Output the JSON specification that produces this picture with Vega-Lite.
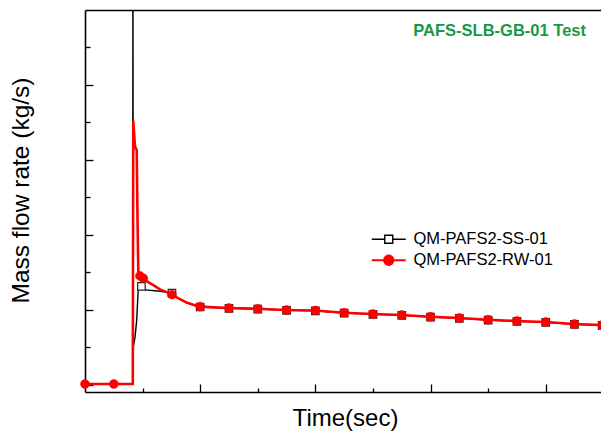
{
  "$schema": "https://vega.github.io/schema/vega-lite/v6.json",
  "width": 516,
  "height": 382,
  "autosize": {"type": "none"},
  "padding": {"left": 85, "top": 10, "right": 0, "bottom": 40},
  "background": "white",
  "config": {
    "view": {"stroke": null},
    "axis": {"grid": false, "labels": false, "domainColor": "black", "domainWidth": 1.6, "tickColor": "black", "tickWidth": 1.3, "titleFont": "Liberation Sans", "titleFontWeight": "normal", "titleColor": "black", "titleFontSize": 24},
    "legend": {"labelFont": "Liberation Sans", "labelFontSize": 16.5, "labelColor": "black"}
  },
  "title": {"text": "PAFS-SLB-GB-01 Test", "anchor": "end", "frame": "group", "orient": "top", "offset": -42, "baseline": "alphabetic", "dx": -15, "font": "Liberation Sans", "fontSize": 16.5, "fontWeight": "bold", "color": "#17994a"},
  "datasets": {
    "curves": [
      {"series": "QM-PAFS2-SS-01", "time": 0, "flow": 0.007},
      {"series": "QM-PAFS2-SS-01", "time": 0.414, "flow": 0.007},
      {"series": "QM-PAFS2-SS-01", "time": 0.416, "flow": 6},
      {"series": "QM-PAFS2-SS-01", "time": 0.419, "flow": 0.5},
      {"series": "QM-PAFS2-SS-01", "time": 0.425, "flow": 0.55},
      {"series": "QM-PAFS2-SS-01", "time": 0.434, "flow": 0.63},
      {"series": "QM-PAFS2-SS-01", "time": 0.449, "flow": 0.86},
      {"series": "QM-PAFS2-SS-01", "time": 0.463, "flow": 1.3},
      {"series": "QM-PAFS2-SS-01", "time": 0.49, "flow": 1.27},
      {"series": "QM-PAFS2-SS-01", "time": 0.55, "flow": 1.26},
      {"series": "QM-PAFS2-SS-01", "time": 0.65, "flow": 1.245},
      {"series": "QM-PAFS2-SS-01", "time": 0.72, "flow": 1.23},
      {"series": "QM-PAFS2-SS-01", "time": 0.755, "flow": 1.215},
      {"series": "QM-PAFS2-SS-01", "time": 0.8, "flow": 1.16},
      {"series": "QM-PAFS2-SS-01", "time": 0.875, "flow": 1.095},
      {"series": "QM-PAFS2-SS-01", "time": 0.94, "flow": 1.06},
      {"series": "QM-PAFS2-SS-01", "time": 1.0, "flow": 1.035},
      {"series": "QM-PAFS2-SS-01", "time": 1.25, "flow": 1.016},
      {"series": "QM-PAFS2-SS-01", "time": 1.5, "flow": 1.007},
      {"series": "QM-PAFS2-SS-01", "time": 1.75, "flow": 0.99},
      {"series": "QM-PAFS2-SS-01", "time": 2.0, "flow": 0.983},
      {"series": "QM-PAFS2-SS-01", "time": 2.25, "flow": 0.954},
      {"series": "QM-PAFS2-SS-01", "time": 2.5, "flow": 0.936},
      {"series": "QM-PAFS2-SS-01", "time": 2.75, "flow": 0.923},
      {"series": "QM-PAFS2-SS-01", "time": 3.0, "flow": 0.9},
      {"series": "QM-PAFS2-SS-01", "time": 3.25, "flow": 0.883},
      {"series": "QM-PAFS2-SS-01", "time": 3.5, "flow": 0.86},
      {"series": "QM-PAFS2-SS-01", "time": 3.75, "flow": 0.843},
      {"series": "QM-PAFS2-SS-01", "time": 4.0, "flow": 0.829},
      {"series": "QM-PAFS2-SS-01", "time": 4.25, "flow": 0.803},
      {"series": "QM-PAFS2-SS-01", "time": 4.49, "flow": 0.789},
      {"series": "QM-PAFS2-RW-01", "time": 0, "flow": 0.007},
      {"series": "QM-PAFS2-RW-01", "time": 0.415, "flow": 0.007},
      {"series": "QM-PAFS2-RW-01", "time": 0.419, "flow": 3.52},
      {"series": "QM-PAFS2-RW-01", "time": 0.434, "flow": 3.18},
      {"series": "QM-PAFS2-RW-01", "time": 0.449, "flow": 3.13},
      {"series": "QM-PAFS2-RW-01", "time": 0.456, "flow": 2.2},
      {"series": "QM-PAFS2-RW-01", "time": 0.463, "flow": 1.5},
      {"series": "QM-PAFS2-RW-01", "time": 0.477, "flow": 1.45},
      {"series": "QM-PAFS2-RW-01", "time": 0.506, "flow": 1.42},
      {"series": "QM-PAFS2-RW-01", "time": 0.535, "flow": 1.38},
      {"series": "QM-PAFS2-RW-01", "time": 0.6, "flow": 1.32},
      {"series": "QM-PAFS2-RW-01", "time": 0.65, "flow": 1.27},
      {"series": "QM-PAFS2-RW-01", "time": 0.7, "flow": 1.24},
      {"series": "QM-PAFS2-RW-01", "time": 0.755, "flow": 1.2},
      {"series": "QM-PAFS2-RW-01", "time": 0.8, "flow": 1.16},
      {"series": "QM-PAFS2-RW-01", "time": 0.875, "flow": 1.1},
      {"series": "QM-PAFS2-RW-01", "time": 0.94, "flow": 1.065},
      {"series": "QM-PAFS2-RW-01", "time": 1.0, "flow": 1.04},
      {"series": "QM-PAFS2-RW-01", "time": 1.25, "flow": 1.021},
      {"series": "QM-PAFS2-RW-01", "time": 1.5, "flow": 1.012},
      {"series": "QM-PAFS2-RW-01", "time": 1.75, "flow": 0.995},
      {"series": "QM-PAFS2-RW-01", "time": 2.0, "flow": 0.988},
      {"series": "QM-PAFS2-RW-01", "time": 2.25, "flow": 0.959},
      {"series": "QM-PAFS2-RW-01", "time": 2.5, "flow": 0.941},
      {"series": "QM-PAFS2-RW-01", "time": 2.75, "flow": 0.928},
      {"series": "QM-PAFS2-RW-01", "time": 3.0, "flow": 0.905},
      {"series": "QM-PAFS2-RW-01", "time": 3.25, "flow": 0.888},
      {"series": "QM-PAFS2-RW-01", "time": 3.5, "flow": 0.865},
      {"series": "QM-PAFS2-RW-01", "time": 3.75, "flow": 0.848},
      {"series": "QM-PAFS2-RW-01", "time": 4.0, "flow": 0.834},
      {"series": "QM-PAFS2-RW-01", "time": 4.25, "flow": 0.808},
      {"series": "QM-PAFS2-RW-01", "time": 4.49, "flow": 0.794}
    ],
    "markers": [
      {"series": "QM-PAFS2-SS-01", "time": 0.49, "flow": 1.31},
      {"series": "QM-PAFS2-SS-01", "time": 0.755, "flow": 1.22},
      {"series": "QM-PAFS2-SS-01", "time": 1.0, "flow": 1.035},
      {"series": "QM-PAFS2-SS-01", "time": 1.25, "flow": 1.016},
      {"series": "QM-PAFS2-SS-01", "time": 1.5, "flow": 1.007},
      {"series": "QM-PAFS2-SS-01", "time": 1.75, "flow": 0.99},
      {"series": "QM-PAFS2-SS-01", "time": 2.0, "flow": 0.983},
      {"series": "QM-PAFS2-SS-01", "time": 2.25, "flow": 0.954},
      {"series": "QM-PAFS2-SS-01", "time": 2.5, "flow": 0.936},
      {"series": "QM-PAFS2-SS-01", "time": 2.75, "flow": 0.923},
      {"series": "QM-PAFS2-SS-01", "time": 3.0, "flow": 0.9},
      {"series": "QM-PAFS2-SS-01", "time": 3.25, "flow": 0.883},
      {"series": "QM-PAFS2-SS-01", "time": 3.5, "flow": 0.86},
      {"series": "QM-PAFS2-SS-01", "time": 3.75, "flow": 0.843},
      {"series": "QM-PAFS2-SS-01", "time": 4.0, "flow": 0.829},
      {"series": "QM-PAFS2-SS-01", "time": 4.25, "flow": 0.803},
      {"series": "QM-PAFS2-SS-01", "time": 4.49, "flow": 0.789},
      {"series": "QM-PAFS2-RW-01", "time": 0, "flow": 0.007},
      {"series": "QM-PAFS2-RW-01", "time": 0.25, "flow": 0.007},
      {"series": "QM-PAFS2-RW-01", "time": 0.477, "flow": 1.45},
      {"series": "QM-PAFS2-RW-01", "time": 0.506, "flow": 1.42},
      {"series": "QM-PAFS2-RW-01", "time": 0.755, "flow": 1.2},
      {"series": "QM-PAFS2-RW-01", "time": 1.0, "flow": 1.04},
      {"series": "QM-PAFS2-RW-01", "time": 1.25, "flow": 1.021},
      {"series": "QM-PAFS2-RW-01", "time": 1.5, "flow": 1.012},
      {"series": "QM-PAFS2-RW-01", "time": 1.75, "flow": 0.995},
      {"series": "QM-PAFS2-RW-01", "time": 2.0, "flow": 0.988},
      {"series": "QM-PAFS2-RW-01", "time": 2.25, "flow": 0.959},
      {"series": "QM-PAFS2-RW-01", "time": 2.5, "flow": 0.941},
      {"series": "QM-PAFS2-RW-01", "time": 2.75, "flow": 0.928},
      {"series": "QM-PAFS2-RW-01", "time": 3.0, "flow": 0.905},
      {"series": "QM-PAFS2-RW-01", "time": 3.25, "flow": 0.888},
      {"series": "QM-PAFS2-RW-01", "time": 3.5, "flow": 0.865},
      {"series": "QM-PAFS2-RW-01", "time": 3.75, "flow": 0.848},
      {"series": "QM-PAFS2-RW-01", "time": 4.0, "flow": 0.834},
      {"series": "QM-PAFS2-RW-01", "time": 4.25, "flow": 0.808},
      {"series": "QM-PAFS2-RW-01", "time": 4.49, "flow": 0.794}
    ]
  },
  "resolve": {"axis": {"x": "independent", "y": "independent"}},
  "layer": [
    {
      "data": {"name": "curves"},
      "transform": [{"filter": "datum.series === 'QM-PAFS2-SS-01'"}],
      "mark": {"type": "line", "strokeWidth": 1.4, "clip": true},
      "encoding": {
        "x": {"field": "time", "type": "quantitative", "scale": {"domain": [0, 4.48], "nice": false, "zero": false},
          "axis": {"orient": "bottom", "values": [1, 2, 3, 4], "tickSize": -8, "title": "Time(sec)", "titleX": 260, "titleY": 33, "titleBaseline": "alphabetic", "titleAnchor": "middle"}},
        "y": {"field": "flow", "type": "quantitative", "scale": {"domain": [-0.1, 5.0], "nice": false, "zero": false},
          "axis": {"orient": "left", "values": [0, 1, 2, 3, 4], "tickSize": -8, "title": "Mass flow rate (kg/s)", "titleFontSize": 24.5, "titleX": -64, "titleY": 180, "titleBaseline": "middle", "titleAngle": -90, "titleAnchor": "middle"}},
        "color": {"field": "series", "type": "nominal",
          "scale": {"domain": ["QM-PAFS2-SS-01", "QM-PAFS2-RW-01"], "range": ["#000000", "#ff0000"]},
          "legend": {"title": null, "orient": "none", "legendX": 295.5, "legendY": 221, "padding": 0, "symbolSize": 289, "labelOffset": 16.5, "rowPadding": 3,
            "encode": {"symbols": {"update": {
              "shape": {"signal": "datum.value === 'QM-PAFS2-SS-01' ? 'M-2,0H-0.47M0.47,0H2M-0.47,-0.47H0.47V0.47H-0.47Z' : 'M-2,0H2M-0.55,0A0.55,0.55 0 1 1 0.55,0A0.55,0.55 0 1 1 -0.55,0Z'"},
              "fill": {"signal": "datum.value === 'QM-PAFS2-SS-01' ? 'white' : '#ff0000'"},
              "stroke": {"signal": "datum.value === 'QM-PAFS2-SS-01' ? '#000000' : '#ff0000'"},
              "strokeWidth": {"signal": "datum.value === 'QM-PAFS2-SS-01' ? 1.4 : 2"},
              "opacity": {"value": 1},
              "fillOpacity": {"value": 1},
              "strokeOpacity": {"value": 1}
            }}}}
        }
      }
    },
    {
      "data": {"name": "markers"},
      "transform": [{"filter": "datum.series === 'QM-PAFS2-SS-01'"}],
      "mark": {"type": "point", "shape": "square", "size": 56, "filled": true, "fill": "white", "stroke": "#222222", "strokeWidth": 1.2, "opacity": 1},
      "encoding": {
        "x": {"field": "time", "type": "quantitative", "axis": {"orient": "bottom", "values": [0.5, 1.5, 2.5, 3.5], "tickSize": -4, "domain": false, "title": null}},
        "y": {"field": "flow", "type": "quantitative", "axis": {"orient": "left", "values": [0.5, 1.5, 2.5, 3.5, 4.5], "tickSize": -5, "domain": false, "title": null}}
      }
    },
    {
      "data": {"name": "curves"},
      "transform": [{"filter": "datum.series === 'QM-PAFS2-RW-01'"}],
      "mark": {"type": "line", "strokeWidth": 2.6, "clip": true},
      "encoding": {
        "x": {"field": "time", "type": "quantitative", "axis": {"orient": "top", "ticks": false, "domain": true, "title": null}},
        "y": {"field": "flow", "type": "quantitative", "axis": null},
        "color": {"field": "series", "type": "nominal"}
      }
    },
    {
      "data": {"name": "markers"},
      "transform": [{"filter": "datum.series === 'QM-PAFS2-RW-01'"}],
      "mark": {"type": "point", "shape": "circle", "size": 80, "filled": true, "fill": "#ff0000", "stroke": "#ff0000", "strokeWidth": 0.5, "opacity": 1},
      "encoding": {
        "x": {"field": "time", "type": "quantitative", "axis": null},
        "y": {"field": "flow", "type": "quantitative", "axis": null}
      }
    }
  ]
}
